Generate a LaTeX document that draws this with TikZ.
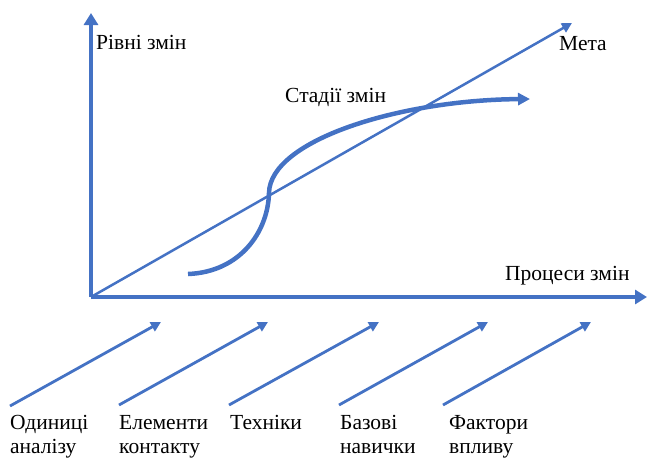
\documentclass[tikz,border=0pt]{standalone}
\usepackage{fontspec}
\setmainfont{Liberation Serif}
\usetikzlibrary{arrows.meta}
\definecolor{obl}{HTML}{4472C4}
\tikzset{
  lbl/.style={inner sep=0pt, font=\fontsize{21.5}{23.5}\selectfont, align=left},
  axis/.style={draw=obl, line width=3.8pt, -{Triangle[length=12pt,width=14pt]}},
  goal/.style={draw=obl, line width=2.5pt, -{Triangle[length=10pt,width=10pt]}},
  feed/.style={draw=obl, line width=2.8pt, -{Triangle[length=10pt,width=10pt]}},
  stage/.style={draw=obl, line width=4.5pt, -{Triangle[length=12pt,width=12pt]}}
}
\begin{document}
\begin{tikzpicture}[x=1pt,y=-1pt]
\useasboundingbox (0,0) rectangle (649,459);
% axes
\coordinate (O) at (91,297);
\coordinate (Ytip) at (91,13);
\coordinate (Xtip) at (647,297);
\coordinate (Gtip) at (572,23);
\draw[axis] (O) -- (Ytip);
\draw[axis] (O) -- (Xtip);
\draw[goal] (O) -- (Gtip);
% stages curve
\coordinate (S0) at (188,274);
\coordinate (S1) at (269,193);
\coordinate (S2) at (530,99);
\draw[stage] (S0) .. controls (240,272) and (268,232) .. (S1)
  .. controls (270,140) and (400,100) .. (S2);
% labels
\node[lbl, anchor=base west] (levels) at (96,49) {Рівні змін};
\node[lbl, anchor=base west] (goal) at (559,50) {Мета};
\node[lbl, anchor=base west] (stages) at (285,102) {Стадії змін};
\node[lbl, anchor=base west] (proc) at (505,280) {Процеси змін};
% bottom arrows
\coordinate (a1) at (10,406);  \coordinate (b1) at (161,322);
\coordinate (a2) at (119,405); \coordinate (b2) at (268,322);
\coordinate (a3) at (229,405); \coordinate (b3) at (379,322);
\coordinate (a4) at (339,405); \coordinate (b4) at (488,322);
\coordinate (a5) at (443,405); \coordinate (b5) at (591,322);
\foreach \i in {1,...,5} {\draw[feed] (a\i) -- (b\i);}
\node[lbl, anchor=base west] (t1) at (10,453) {Одиниці\\аналізу};
\node[lbl, anchor=base west] (t2) at (119,453) {Елементи\\контакту};
\node[lbl, anchor=base west] (t3) at (230,429.5) {Техніки};
\node[lbl, anchor=base west] (t4) at (340,453) {Базові\\навички};
\node[lbl, anchor=base west] (t5) at (449,453) {Фактори\\впливу};
\end{tikzpicture}
\end{document}
